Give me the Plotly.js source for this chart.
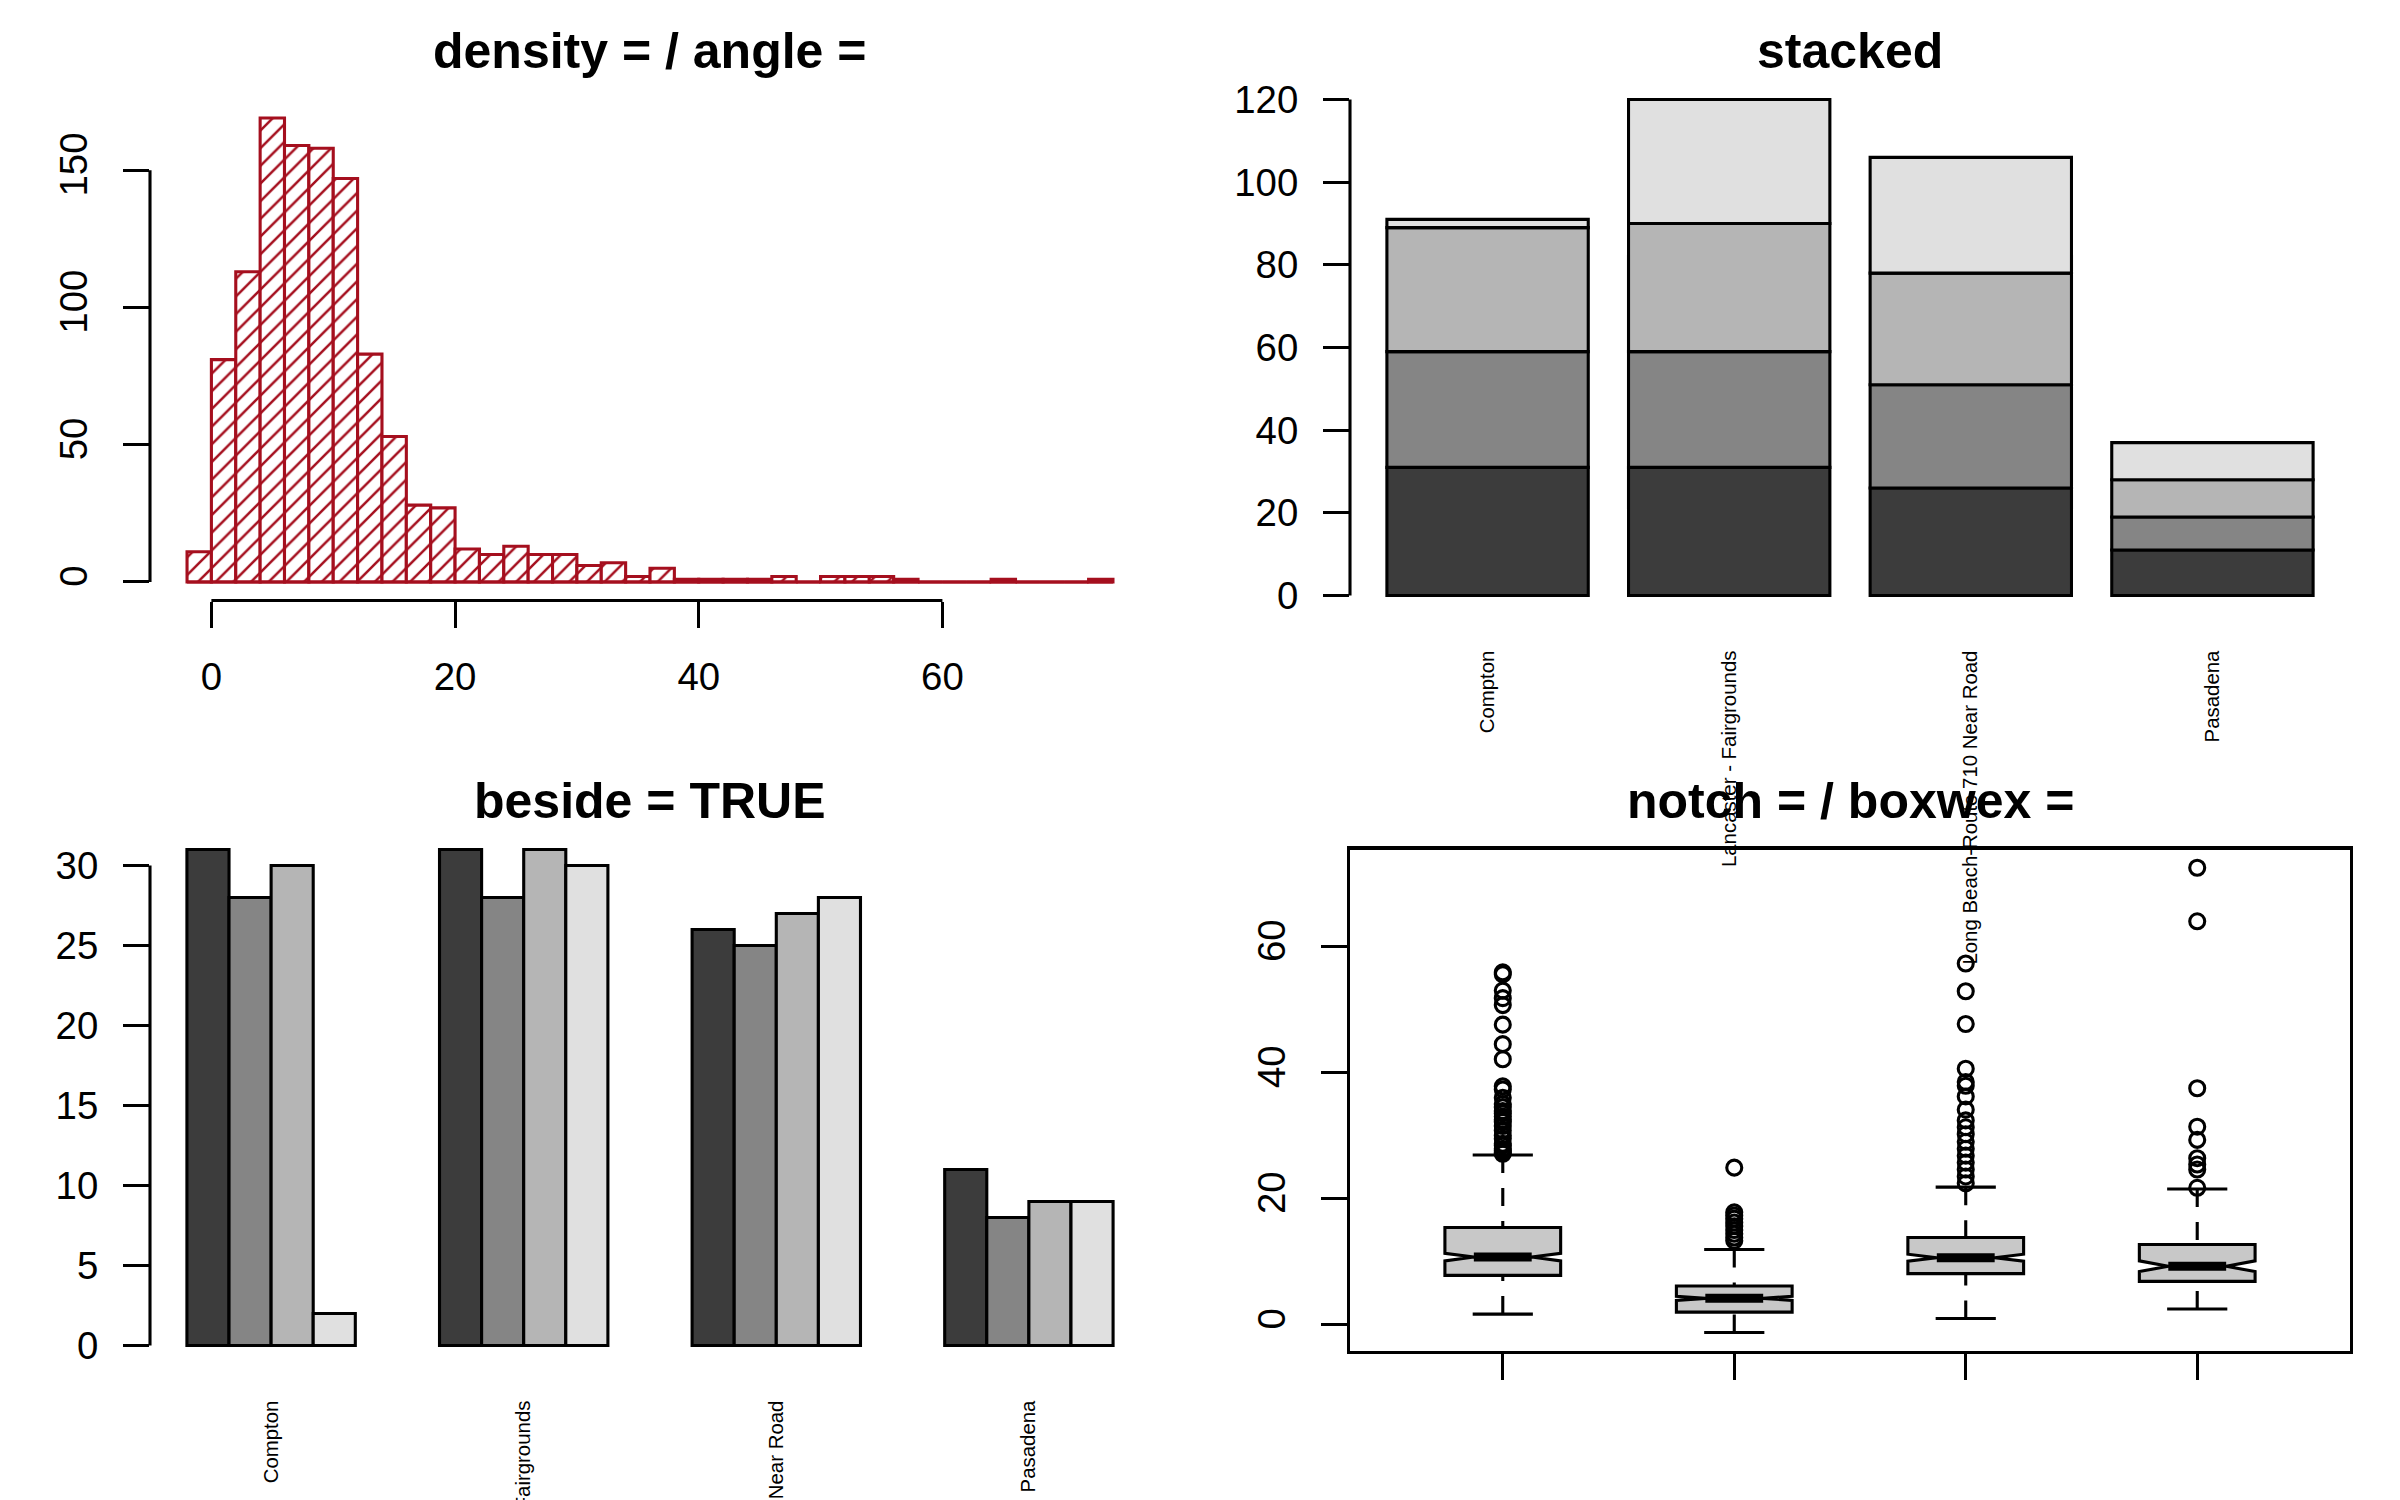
<!DOCTYPE html>
<html>
<head>
<meta charset="utf-8">
<script src="https://cdn.plot.ly/plotly-3.0.1.min.js"></script>
<style>html,body{margin:0;padding:0;background:#fff;overflow:hidden}#plot{width:2400px;height:1500px}</style>
</head>
<body>
<div id="plot"></div>
<script>
// ---- data ----
const titles = ["density = / angle =", "stacked", "beside = TRUE", "notch = / boxwex ="];
const sites = ["Compton", "Lancaster - Fairgrounds", "Long Beach-Route 710 Near Road", "Pasadena"];

// histogram: left edges (width 2) and counts
const histStart = [-2,0,2,4,6,8,10,12,14,16,18,20,22,24,26,28,30,32,34,36,38,40,42,44,46,48,50,52,54,56,58,60,62,64,66,68,70,72];
const histCount = [11,81,113,169,159,158,147,83,53,28,27,12,10,13,10,10,6,7,2,5,1,1,1,1,2,0,2,2,2,1,0,0,0,1,0,0,0,1];
const histBinWidth = 2;
const histXTicks = [0,20,40,60];
const histYTicks = [0,50,100,150];

// bar series
const seriesA = [31,31,26,11];
const seriesB = [28,28,25,8];
const seriesC = [30,31,27,9];
const seriesD = [2,30,28,9];
const barColors = ["#3c3c3c","#858585","#b5b5b5","#e0e0e0"];
const stackedTicks = [0,20,40,60,80,100,120];
const besideTicks = [0,5,10,15,20,25,30];

// box statistics
const boxPos = [1,2,3,4];
const boxQ1 = [7.8,1.96,8.08,6.85];
const boxMedian = [10.7,4.15,10.6,9.25];
const boxQ3 = [15.4,6.1,13.8,12.7];
const boxLowCap = [1.65,-1.27,0.95,2.45];
const boxHighCap = [26.9,11.9,21.8,21.5];
const boxNotch = [0.6,0.32,0.55,0.85];
const outliers1 = [55.9,55.6,53,51.8,50.7,47.6,44.5,42.1,37.8,37.3,36,35,34.5,33.9,33.5,33,32.5,32.2,31.5,30.8,30,29.5,28.7,28.4,27.9,27.6,27.3,27.1];
const outliers2 = [24.9,17.8,17.3,16.8,16.2,15.6,15,14.4,13.8,13.3];
const outliers3 = [57.3,52.9,47.7,40.6,38.5,37.9,36.2,34.1,32.4,31.3,30.2,29,27.9,26.8,25.7,24.6,23.5,22.4];
const outliers4 = [72.5,64,37.5,31.4,29.3,26.4,25.4,24.6,21.7];
const boxYTicks = [0,20,40,60];

// ---- styling ----
const FONT = "Liberation Sans, Arial, Helvetica, sans-serif";
const LW = 3.1, TICK = 26, TICKFONT = 38.4, NAMEFONT = 20.4;
const RED = "#a50f1e";
const capHalf = 0.13, medHalf = 0.125;
const stackWidth = 1/1.2, besideWidth = 1/6;

const W = 2400, H = 1500;
const dx = (a,b)=>[a/W,b/W];
const dy = (top,bot)=>[1-bot/H,1-top/H];
const xDomL = dx(150,1150), xDomR = dx(1350,2350);
const yDomT = dy(99.5,600.5), yDomB = dy(849.5,1350.5);
// bar panels get 4px of headroom so the top border of the tallest bar is not cut
const yDomTBar = dy(95.5,600.5), yDomBBar = dy(845.5,1350.5);

function baseAxis(extra){
  return Object.assign({showgrid:false, zeroline:false, showline:false, ticks:"outside", ticklen:TICK, tickwidth:LW,
    tickcolor:"#000", color:"#000", fixedrange:true, automargin:false, ticklabeloverflow:"allow",
    tickfont:{family:FONT,size:TICKFONT,color:"#000"}, tickmode:"array"}, extra);
}
function segs(fn){
  const xs=[],ys=[];
  boxPos.forEach((p,i)=>{const s=fn(p,i); xs.push(s[0],s[2],null); ys.push(s[1],s[3],null);});
  return {x:xs,y:ys};
}

const traces = [];
// panel 1: hatched histogram
traces.push({type:"bar", x:histStart, y:histCount, offset:0, width:histBinWidth, xaxis:"x", yaxis:"y", cliponaxis:false,
  marker:{color:"#fff", line:{color:RED,width:LW},
    pattern:{shape:"/", size:12.5, solidity:0.2, fgcolor:RED, bgcolor:"#fff", fillmode:"replace"}}});
// panel 2: stacked, each layer based on the sum of the ones below
const allSeries = [seriesA,seriesB,seriesC,seriesD];
let running = sites.map(()=>0);
allSeries.forEach((s,i)=>{
  traces.push({type:"bar", x:sites, y:s, base:running.slice(), width:stackWidth, xaxis:"x2", yaxis:"y2", cliponaxis:false,
    marker:{color:barColors[i], line:{color:"#000",width:LW}}});
  running = running.map((v,k)=>v+s[k]);
});
// panel 3: beside
allSeries.forEach((s,i)=>{
  traces.push({type:"bar", x:sites, y:s, width:besideWidth, offset:(i-2)*besideWidth, xaxis:"x3", yaxis:"y3", cliponaxis:false,
    marker:{color:barColors[i], line:{color:"#000",width:LW}}});
});
// panel 4: notched boxes (whiskers added below so they can be dashed)
traces.push({type:"box", x:boxPos, q1:boxQ1, median:boxMedian, q3:boxQ3, lowerfence:boxQ1, upperfence:boxQ3,
  notchspan:boxNotch, notched:true, notchwidth:0.25, width:0.5, whiskerwidth:0, boxpoints:false,
  fillcolor:"#c8c8c8", line:{color:"#000",width:LW}, xaxis:"x4", yaxis:"y4"});
const whiskHi = segs((p,i)=>[p,boxHighCap[i],p,boxQ3[i]]);
const whiskLo = segs((p,i)=>[p,boxLowCap[i],p,boxQ1[i]]);
traces.push({type:"scatter",mode:"lines",x:whiskHi.x.concat(whiskLo.x),y:whiskHi.y.concat(whiskLo.y),xaxis:"x4",yaxis:"y4",
  line:{color:"#000",width:LW,dash:"18px,15px"},connectgaps:false});
const capHi = segs((p,i)=>[p-capHalf,boxHighCap[i],p+capHalf,boxHighCap[i]]);
const capLo = segs((p,i)=>[p-capHalf,boxLowCap[i],p+capHalf,boxLowCap[i]]);
traces.push({type:"scatter",mode:"lines",x:capHi.x.concat(capLo.x),y:capHi.y.concat(capLo.y),xaxis:"x4",yaxis:"y4",
  line:{color:"#000",width:LW},connectgaps:false});
const med = segs((p,i)=>[p-medHalf,boxMedian[i],p+medHalf,boxMedian[i]]);
traces.push({type:"scatter",mode:"lines",x:med.x,y:med.y,xaxis:"x4",yaxis:"y4",line:{color:"#000",width:9},connectgaps:false});
[outliers1,outliers2,outliers3,outliers4].forEach((o,i)=>{
  traces.push({type:"scatter",mode:"markers",x:o.map(()=>boxPos[i]),y:o,xaxis:"x4",yaxis:"y4",cliponaxis:false,
    marker:{symbol:"circle-open",size:15,color:"#000",line:{color:"#000",width:LW}}});
});

const nameAxis = {ticks:"", ticklen:0, tickangle:-90, ticklabelstandoff:45, type:"category",
  tickfont:{family:FONT,size:NAMEFONT,color:"#000"}, tickvals:sites, ticktext:sites};

const layout = {
  width:W, height:H, margin:{l:0,r:0,t:0,b:0,pad:0}, paper_bgcolor:"#fff", plot_bgcolor:"rgba(0,0,0,0)",
  showlegend:false, hovermode:false, dragmode:false, bargap:0,
  barmode:"overlay",
  xaxis: baseAxis({domain:xDomL, anchor:"y", range:[-5.04,77.04], tickvals:histXTicks, ticktext:histXTicks.map(String), ticklabelstandoff:16}),
  yaxis: baseAxis({domain:yDomT, anchor:"x", range:[-6.76,175.76], tickvals:histYTicks, ticktext:histYTicks.map(String), tickangle:-90, ticklabelstandoff:21}),
  xaxis2: baseAxis(Object.assign({domain:xDomR, anchor:"y2", range:[-0.5694,3.5694]}, nameAxis)),
  yaxis2: baseAxis({domain:yDomTBar, anchor:"x2", range:[-1.2,120.97], tickvals:stackedTicks, ticktext:stackedTicks.map(String), ticklabelstandoff:17}),
  xaxis3: baseAxis(Object.assign({domain:xDomL, anchor:"y3", range:[-0.4795,3.4795]}, nameAxis)),
  yaxis3: baseAxis({domain:yDomBBar, anchor:"x3", range:[-0.31,31.25], tickvals:besideTicks, ticktext:besideTicks.map(String), ticklabelstandoff:17}),
  xaxis4: baseAxis({domain:xDomR, anchor:"y4", range:[0.34,4.66], tickvals:boxPos, showticklabels:false, showline:true, mirror:true, linecolor:"#000", linewidth:LW}),
  yaxis4: baseAxis({domain:yDomB, anchor:"x4", range:[-4.13,75.4], tickvals:boxYTicks, ticktext:boxYTicks.map(String), tickangle:-90, ticklabelstandoff:21, showline:true, mirror:true, linecolor:"#000", linewidth:LW}),
  annotations: titles.map((t,i)=>({text:t, showarrow:false, xref:(i===0?"x":"x"+(i+1))+" domain", x:0.5, xanchor:"center",
    yref:"paper", y:1-(i<2?51:801)/H, yanchor:"middle", font:{family:FONT,size:50,color:"#000",weight:700}})),
  shapes: [
    // R-style axis lines that span only the tick range
    {type:"line",xref:"x",x0:histXTicks[0],x1:histXTicks[histXTicks.length-1],yref:"y domain",y0:0,y1:0,line:{color:"#000",width:LW}},
    {type:"line",xref:"x domain",x0:0,x1:0,yref:"y",y0:histYTicks[0],y1:histYTicks[histYTicks.length-1],line:{color:"#000",width:LW}},
    {type:"line",xref:"x2 domain",x0:0,x1:0,yref:"y2",y0:stackedTicks[0],y1:stackedTicks[stackedTicks.length-1],line:{color:"#000",width:LW}},
    {type:"line",xref:"x3 domain",x0:0,x1:0,yref:"y3",y0:besideTicks[0],y1:besideTicks[besideTicks.length-1],line:{color:"#000",width:LW}},
    // histogram baseline, so empty bins still show a line
    {type:"line",xref:"x",x0:histStart[0],x1:histStart[histStart.length-1]+histBinWidth,yref:"y",y0:0,y1:0,line:{color:RED,width:LW}}
  ]
};
Plotly.newPlot("plot", traces, layout, {staticPlot:true, displayModeBar:false});
</script>
</body>
</html>
